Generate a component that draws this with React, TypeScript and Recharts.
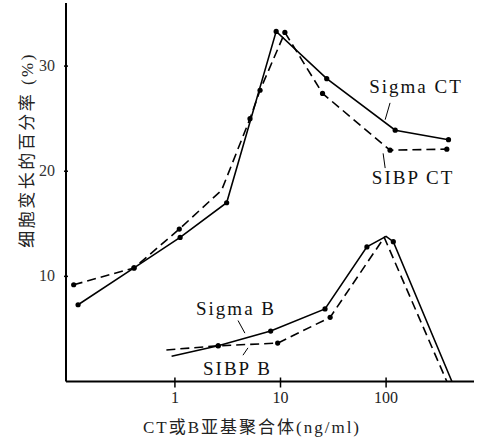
import React from "react";
import {
  LineChart,
  Line,
  XAxis,
  YAxis,
  ReferenceLine,
  ReferenceDot,
} from "recharts";

// concentration (ng/ml) vs % elongated cells; dot=false marks an unmarked corner
const sigmaCT = [
  { x: 0.121, y: 7.3, dot: true },
  { x: 0.41, y: 10.8, dot: true },
  { x: 1.12, y: 13.7, dot: true },
  { x: 3.09, y: 17.0, dot: true },
  { x: 9.1, y: 33.3, dot: true },
  { x: 27.4, y: 28.8, dot: true },
  { x: 122, y: 23.9, dot: true },
  { x: 390, y: 23.0, dot: true },
];

const sibpCT = [
  { x: 0.11, y: 9.2, dot: true },
  { x: 0.41, y: 10.8, dot: true },
  { x: 1.1, y: 14.5, dot: true },
  { x: 2.77, y: 18.2, dot: false },
  { x: 5.14, y: 25.0, dot: true },
  { x: 6.4, y: 27.7, dot: true },
  { x: 11.0, y: 33.2, dot: true },
  { x: 25, y: 27.4, dot: true },
  { x: 109, y: 22.0, dot: true },
  { x: 376, y: 22.1, dot: true },
];

const sigmaB = [
  { x: 0.93, y: 2.4, dot: false },
  { x: 2.57, y: 3.4, dot: true },
  { x: 8.07, y: 4.8, dot: true },
  { x: 26.4, y: 6.9, dot: true },
  { x: 65.8, y: 12.8, dot: true },
  { x: 100, y: 13.8, dot: false },
  { x: 117, y: 13.3, dot: true },
  { x: 420, y: 0, dot: false },
];

const sibpB = [
  { x: 0.83, y: 3.0, dot: false },
  { x: 2.57, y: 3.4, dot: true },
  { x: 9.4, y: 3.65, dot: true },
  { x: 29.5, y: 6.1, dot: true },
  { x: 96, y: 13.7, dot: false },
  { x: 376, y: 0, dot: false },
];

const xTicks = [1, 10, 100];
const yTicks = [10, 20, 30];

const seriesLabels = [
  { text: "Sigma CT", x: 192, y: 28.1 },
  { text: "SIBP CT", x: 180, y: 19.4 },
  { text: "Sigma B", x: 3.79, y: 7.0 },
  { text: "SIBP B", x: 3.91, y: 1.3 },
];

const leaders = [
  [{ x: 109, y: 26.5 }, { x: 98, y: 24.9 }],
  [{ x: 93.7, y: 21.7 }, { x: 98, y: 20.3 }],
  [{ x: 3.96, y: 5.8 }, { x: 4.6, y: 4.6 }],
  [{ x: 4.92, y: 3.2 }, { x: 4.41, y: 2.5 }],
];

const serif = "Liberation Serif, Times New Roman, serif";
const cjk = "Liberation Serif, Times New Roman, Noto Sans CJK SC, serif";

const Dot = (props: any) => {
  const { cx, cy, payload, index } = props;
  if (!payload || !payload.dot) return <g key={index} />;
  return <circle key={index} cx={cx} cy={cy} r={2.6} fill="#000" />;
};

const XTick = (props: any) => {
  const { x, y, payload } = props;
  return (
    <g>
      <line x1={x} x2={x} y1={y - 6} y2={y + 4} stroke="#000" strokeWidth={1.5} />
      <text
        x={x}
        y={y + 19}
        textAnchor="middle"
        fontFamily={serif}
        fontSize={16}
        fill="#222"
      >
        {payload.value}
      </text>
    </g>
  );
};

const YTick = (props: any) => {
  const { x, y, payload } = props;
  return (
    <g>
      <line x1={x} x2={x + 4} y1={y} y2={y} stroke="#000" strokeWidth={1.5} />
      <text
        x={x - 9}
        y={y + 5}
        textAnchor="end"
        fontFamily={serif}
        fontSize={16}
        fill="#333"
      >
        {payload.value}
      </text>
    </g>
  );
};

export default function App() {
  return (
    <div style={{ position: "absolute", left: 0, top: 0, background: "#fff" }}>
      <LineChart
        width={482}
        height={442}
        margin={{ top: 3, right: 8, bottom: 0, left: 0 }}
      >
        <XAxis
          dataKey="x"
          type="number"
          scale="log"
          domain={[0.093, 680]}
          allowDataOverflow
          ticks={xTicks}
          tick={<XTick />}
          tickLine={false}
          tickSize={0}
          axisLine={{ stroke: "#000", strokeWidth: 2 }}
          height={60.5}
        />
        <YAxis
          type="number"
          domain={[0, 36]}
          ticks={yTicks}
          tick={<YTick />}
          tickLine={false}
          tickSize={0}
          axisLine={{ stroke: "#000", strokeWidth: 2 }}
          width={66}
        />
        <Line
          data={sigmaCT}
          dataKey="y"
          stroke="#000"
          strokeWidth={1.6}
          dot={<Dot />}
          isAnimationActive={false}
        />
        <Line
          data={sibpCT}
          dataKey="y"
          stroke="#000"
          strokeWidth={1.6}
          strokeDasharray="9 5"
          dot={<Dot />}
          isAnimationActive={false}
        />
        <Line
          data={sigmaB}
          dataKey="y"
          stroke="#000"
          strokeWidth={1.6}
          dot={<Dot />}
          isAnimationActive={false}
        />
        <Line
          data={sibpB}
          dataKey="y"
          stroke="#000"
          strokeWidth={1.6}
          strokeDasharray="9 5"
          dot={<Dot />}
          isAnimationActive={false}
        />
        {leaders.map((seg, i) => (
          <ReferenceLine
            key={"l" + i}
            segment={seg}
            stroke="#000"
            strokeWidth={1}
            ifOverflow="visible"
          />
        ))}
        {seriesLabels.map((l) => (
          <ReferenceDot
            key={l.text}
            x={l.x}
            y={l.y}
            r={0}
            stroke="none"
            fill="none"
            ifOverflow="visible"
            label={{
              value: l.text,
              position: "center",
              fontFamily: serif,
              fontSize: 19,
              letterSpacing: 2,
              fill: "#111",
            }}
          />
        ))}
      </LineChart>
      <div
        style={{
          position: "absolute",
          left: 0,
          top: 0,
          width: 482,
          height: 442,
          pointerEvents: "none",
        }}
      >
        <svg width={482} height={442}>
          <text
            x={252}
            y={433}
            textAnchor="middle"
            fontFamily={cjk}
            fontSize={17}
            letterSpacing={2}
            fill="#222"
          >
            CT或B亚基聚合体(ng/ml)
          </text>
          <text
            x={0}
            y={0}
            transform="translate(33,150) rotate(-90)"
            textAnchor="middle"
            fontFamily={cjk}
            fontSize={17}
            letterSpacing={2.5}
            fill="#222"
          >
            细胞变长的百分率 (%)
          </text>
        </svg>
      </div>
    </div>
  );
}
